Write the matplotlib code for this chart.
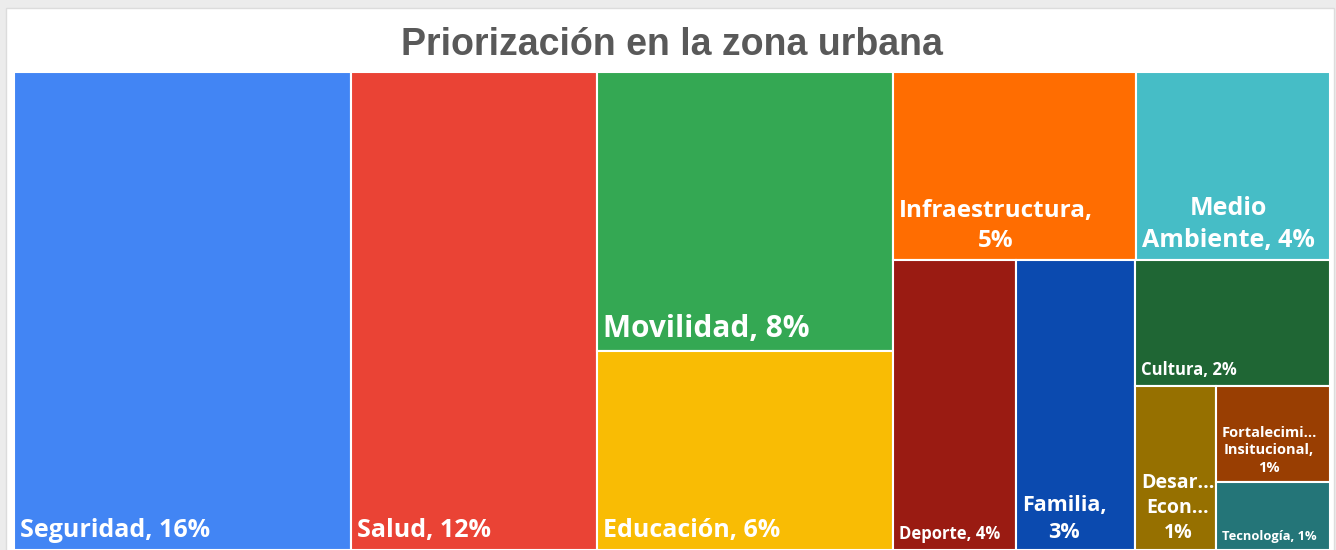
import matplotlib.pyplot as plt
from matplotlib.patches import Rectangle

# categorias y su peso (porcentaje estimado del area de cada bloque)
categorias = ["Seguridad", "Salud", "Movilidad", "Educación", "Infraestructura",
              "Medio Ambiente", "Deporte", "Familia", "Cultura",
              "Desarrollo Económico", "Fortalecimiento Insitucional", "Tecnología"]
valores = [16.0, 11.68, 8.2, 5.85, 4.55, 3.62, 3.55, 3.45, 2.43, 1.31, 1.10, 0.77]
# texto tal como aparece en cada bloque ({p} = porcentaje redondeado)
textos = ["Seguridad, {p}%", "Salud, {p}%", "Movilidad, {p}%", "Educación, {p}%",
          "Infraestructura,\n{p}%", "Medio\nAmbiente, {p}%", "Deporte, {p}%",
          "Familia,\n{p}%", "Cultura, {p}%", "Desar...\nEcon...\n{p}%",
          "Fortalecimi...\nInsitucional,\n{p}%", "Tecnología, {p}%"]

colores = ["#4285F4", "#EA4335", "#34A853", "#F9BC04", "#FF6D01", "#46BDC6",
           "#9A1B12", "#0B4AAF", "#1F6634", "#967000", "#993E02", "#247578"]
tam_letra = [18, 18, 21.5, 18, 17.5, 18, 12, 15.5, 12, 14, 10.5, 9.3]


def squarify(vals, x0, y0, x1, y1, ratio):
    # squarify al estilo d3 (filas a lo largo del lado corto)
    n = len(vals)
    rects = [None] * n
    total = sum(vals)
    i0 = 0
    while i0 < n:
        dx, dy = x1 - x0, y1 - y0
        s = vals[i0]
        i1 = i0 + 1
        vmin = vmax = s
        alpha = max(dy / dx, dx / dy) / (total * ratio)
        beta = s * s * alpha
        best = max(vmax / beta, beta / vmin)
        while i1 < n:
            v = vals[i1]
            s2 = s + v
            beta = s2 * s2 * alpha
            r = max(max(vmax, v) / beta, beta / min(vmin, v))
            if r > best:
                break
            s, best = s2, r
            vmin, vmax = min(vmin, v), max(vmax, v)
            i1 += 1
        if dx < dy:
            yb = y0 + dy * s / total
            x = x0
            for k in range(i0, i1):
                w = dx * vals[k] / s
                rects[k] = (x, y0, w, yb - y0)
                x += w
            y0 = yb
        else:
            xb = x0 + dx * s / total
            y = y0
            for k in range(i0, i1):
                h = dy * vals[k] / s
                rects[k] = (x0, y, xb - x0, h)
                y += h
            x0 = xb
        total -= s
        i0 = i1
    return rects


fig = plt.figure(figsize=(13.36, 5.5), dpi=100, facecolor='#ececec')
# tarjeta blanca
fig.patches.append(Rectangle((6 / 1336, -0.01), 1328 / 1336, 1 - 8 / 550 + 0.01,
                             transform=fig.transFigure, facecolor='white',
                             edgecolor='#dcdcdc', lw=1, zorder=-5))

ax = fig.add_axes([14 / 1336, 0, 1316 / 1336, 478 / 550])
W, H = 1316, 478
ax.set_xlim(0, W)
ax.set_ylim(H, 0)
ax.axis('off')

rects = squarify(valores, 0, 0, W, H, 0.8)
for (x, y, w, h), col, txt, v, fs in zip(rects, colores, textos, valores, tam_letra):
    ax.add_patch(Rectangle((x, y), w, h, facecolor=col, edgecolor='white', lw=1.5))
    ax.text(x + 6, y + h - 7, txt.format(p=round(v)), ha='left', va='bottom',
            multialignment='center', linespacing=1.35, color='white', fontsize=fs,
            fontweight='bold', family=['Open Sans', 'DejaVu Sans'])

fig.text(0.503, 1 - 45 / 550, "Priorización en la zona urbana", ha='center', va='center',
         fontsize=27, fontweight='bold', color='#595959', family='Liberation Sans')

plt.savefig('out.png', dpi=100, facecolor=fig.get_facecolor())
